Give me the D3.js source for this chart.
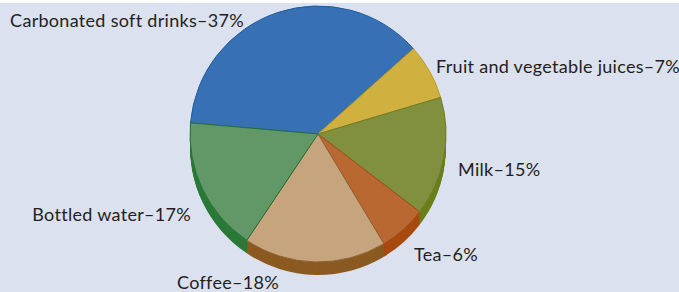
<!DOCTYPE html>
<html>
<head>
<meta charset="utf-8">
<script src="https://cdn.jsdelivr.net/npm/d3@7"></script>
<style>
  html, body { margin: 0; padding: 0; background: #fff; }
  svg { display: block; }
</style>
</head>
<body>
<div class="chart"></div>
<script>
const width = 679
const height = 292

// data
const categories = ["Carbonated soft drinks", "Fruit and vegetable juices", "Milk", "Tea", "Coffee", "Bottled water"]
const shares = [37, 7, 15, 6, 18, 17]

// colours: top face, edge line, side of the cylinder
const faceColors = ["#3770b4", "#d0b140", "#80903f", "#b96832", "#c6a47e", "#629767"]
const edgeColors = ["#1f5d9e", "#c09a20", "#6c7d25", "#a24f1a", "#8f6432", "#267238"]
const sideColors = ["#1f5d9e", "#b89620", "#6a7f18", "#a84a0e", "#8b5a22", "#2b7a38"]

// label placement (x, y baseline, anchor)
const labelPos = [
    [244, 27, "end"],
    [436, 73, "start"],
    [458, 176, "start"],
    [414, 261, "start"],
    [228, 289, "middle"],
    [191, 221, "end"]
]

const cx = 318, cy = 134, r = 128, depth = 13

const svg = d3.select(".chart").append("svg")
    .attr("width", width)
    .attr("height", height)

svg.append("rect")
    .attr("x", 0).attr("y", 3)
    .attr("width", width).attr("height", height - 3)
    .attr("fill", "#dbe1ee")

const pie = d3.pie()
    .sort(null)
    .value(d => d)
    .startAngle(-85 * Math.PI / 180)
    .endAngle(275 * Math.PI / 180)

const arcs = pie(shares)
const arc = d3.arc().innerRadius(0).outerRadius(r)

const g = svg.append("g").attr("transform", `translate(${cx},${cy})`)

// side of the cylinder: stacked shifted copies
for (let k = depth; k >= 1; k--) {
    g.selectAll(null)
        .data(arcs)
        .enter()
        .append("path")
        .attr("transform", `translate(0,${k})`)
        .attr("d", arc)
        .attr("fill", (d, i) => sideColors[i])
}

// top face
g.selectAll(".slice")
    .data(arcs)
    .enter()
    .append("path")
    .attr("class", "slice")
    .attr("d", arc)
    .attr("fill", (d, i) => faceColors[i])
    .attr("stroke", (d, i) => edgeColors[i])
    .attr("stroke-width", 1)
    .attr("stroke-linejoin", "round")

// labels
svg.selectAll(".label")
    .data(categories)
    .enter()
    .append("text")
    .attr("class", "label")
    .attr("x", (d, i) => labelPos[i][0])
    .attr("y", (d, i) => labelPos[i][1])
    .attr("text-anchor", (d, i) => labelPos[i][2])
    .style("font-family", "Lato, 'Open Sans', sans-serif")
    .style("font-size", "18px")
    .style("letter-spacing", "0.3px")
    .style("fill", "#231f20")
    .text((d, i) => d + "–" + shares[i] + "%")
</script>
</body>
</html>
